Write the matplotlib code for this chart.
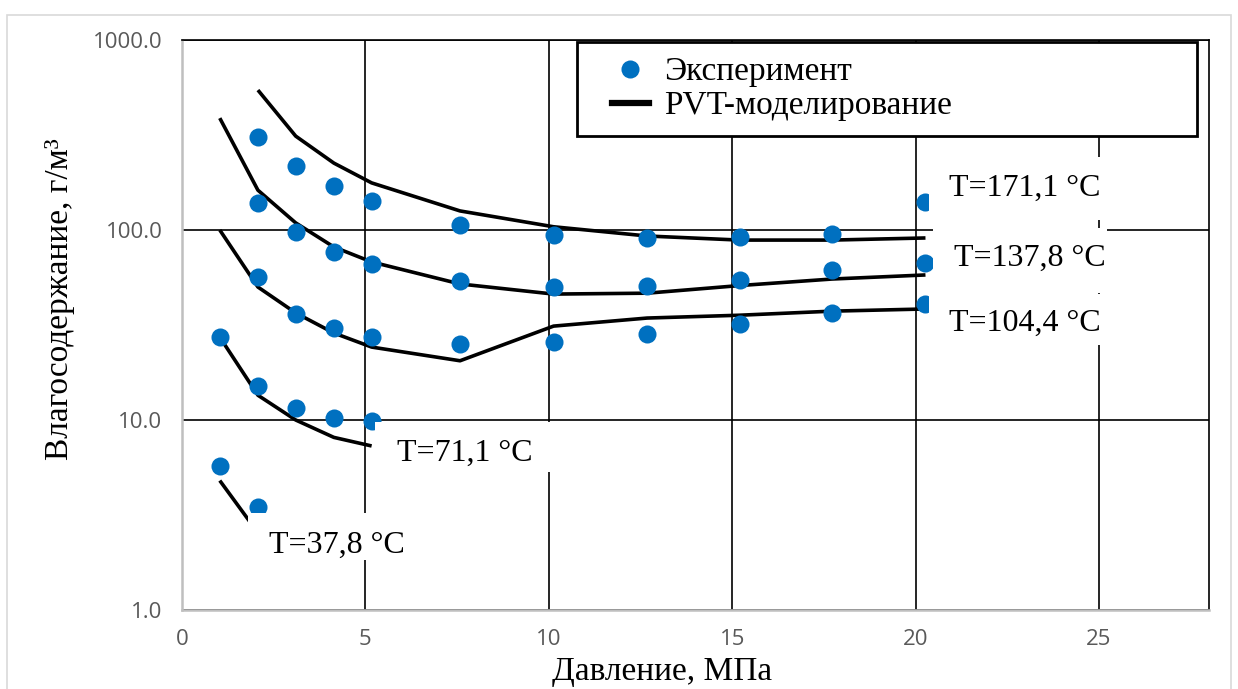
import numpy as np
import matplotlib.pyplot as plt
from matplotlib.lines import Line2D
from matplotlib.patches import Rectangle
from matplotlib.legend_handler import HandlerLine2D

# давление, МПа
pressure = [1.03, 2.07, 3.10, 4.14, 5.17, 7.58, 10.13, 12.68, 15.2, 17.72, 20.27]

# эксперимент, г/м3
exp_37 = [5.7, 3.5]
exp_71 = [27.3, 15.1, 11.6, 10.2, 9.9]
exp_104 = [None, 56.6, 36.1, 30.5, 27.3, 25.1, 25.7, 28.4, 32.0, 36.6, 40.8]
exp_137 = [None, 138.7, 97.6, 76.6, 66.2, 53.9, 50.1, 50.8, 54.6, 61.6, 67.0]
exp_171 = [None, 309, 217, 170.5, 142, 106, 94, 90.8, 91.9, 95.5, 140]

# PVT-моделирование, г/м3
pvt_37 = [4.8, 2.55]
pvt_71 = [27.3, 13.5, 10.0, 8.1, 7.3]
pvt_104 = [100, 50.1, 36.6, 28.7, 24.2, 20.5, 31.2, 34.4, 35.6, 37.4, 38.4]
pvt_137 = [388, 162, 109, 81.4, 67.9, 52.0, 46.0, 46.5, 51.0, 55.2, 58.0]
pvt_171 = [None, 545, 312, 225, 177, 126, 104, 93, 88.5, 88.5, 90.8]

temp_labels = ['T=37,8 °C', 'T=71,1 °C', 'T=104,4 °C', 'T=137,8 °C', 'T=171,1 °C']

BLUE = '#0070C0'
SERIF = 'Liberation Serif'
W, H = 1238, 689


def xy(values):
    p = np.array(pressure[:len(values)], dtype=float)
    v = np.array([np.nan if x is None else x for x in values], dtype=float)
    ok = ~np.isnan(v)
    return p[ok], v[ok]


def px_rect(x0, y0, x1, y1):
    # прямоугольник в пикселях (отсчёт y сверху) -> координаты фигуры
    return (x0 / W, 1 - y1 / H), (x1 - x0) / W, (y1 - y0) / H


fig = plt.figure(figsize=(W / 100, H / 100), dpi=100)
fig.patches.append(Rectangle((7 / W, -0.01), (1231 - 7) / W, 1 - 15 / H + 0.01,
                             transform=fig.transFigure, fill=False,
                             edgecolor='#d9d9d9', linewidth=1.2))

ax = fig.add_axes([182 / W, 1 - 610 / H, (1209 - 182) / W, 570 / H])
ax.set_yscale('log')
ax.set_xlim(0, 28)
ax.set_ylim(1, 1000)

for series in [pvt_37, pvt_71, pvt_104, pvt_137, pvt_171]:
    x, y = xy(series)
    ax.plot(x, y, color='black', linewidth=2.6, zorder=3, solid_capstyle='butt')

for series in [exp_37, exp_71, exp_104, exp_137, exp_171]:
    x, y = xy(series)
    ax.plot(x, y, 'o', color=BLUE, markersize=13, markeredgewidth=0, zorder=4)

ax.set_xticks([0, 5, 10, 15, 20, 25])
ax.set_yticks([1, 10, 100, 1000])
ax.set_yticklabels(['1.0', '10.0', '100.0', '1000.0'])
ax.minorticks_off()
ax.tick_params(length=0, labelsize=16, labelcolor='#595959', pad=14)
for lab in ax.get_xticklabels() + ax.get_yticklabels():
    lab.set_fontfamily('Open Sans')
ax.grid(True, color='black', linewidth=1.2, zorder=1)
ax.set_axisbelow(True)
for side in ['left', 'bottom']:
    ax.spines[side].set_color('#bfbfbf')
    ax.spines[side].set_linewidth(1.8)
for side in ['top', 'right']:
    ax.spines[side].set_color('black')
    ax.spines[side].set_linewidth(1.2)

# подписи температур на белых подложках
label_pos = [(337, 545), (465, 453), (1025, 323), (1030, 258), (1025, 188)]
label_box = [(248, 513, 425, 560), (375, 422, 556, 472), (929, 294, 1102, 345),
             (933, 228, 1107, 293), (929, 157, 1102, 220)]
for text, (px, py), box in zip(temp_labels, label_pos, label_box):
    xy0, bw, bh = px_rect(*box)
    ax.add_patch(Rectangle(xy0, bw, bh, transform=fig.transFigure,
                           facecolor='white', edgecolor='none', zorder=5,
                           clip_on=False))
    ax.text(px / W, 1 - py / H, text, transform=fig.transFigure,
            family=SERIF, fontsize=23, ha='center', va='center', zorder=6)

handles = [Line2D([], [], linestyle='none', marker='o', color=BLUE,
                  markersize=13, markeredgewidth=0),
           Line2D([], [], color='black', linewidth=4.5)]
leg = ax.legend(handles, ['Эксперимент', 'PVT-моделирование'],
                loc='upper left', bbox_to_anchor=(0.3846, 0.9965, 0.6034, 0.0),
                mode='expand', prop={'family': SERIF, 'size': 24},
                frameon=True, fancybox=False, framealpha=1, edgecolor='black',
                borderpad=0.45, labelspacing=0.1, handlelength=1.7,
                handletextpad=0.45, borderaxespad=0,
                handler_map={Line2D: HandlerLine2D(xpad=0.6)})
leg.get_frame().set_linewidth(2)
leg.set_zorder(7)

fig.text(662 / W, 1 - 672 / H, 'Давление, МПа', family=SERIF, fontsize=24,
         ha='center', va='center')
fig.text(60 / W, 1 - 299 / H, 'Влагосодержание, г/м³', family=SERIF,
         fontsize=24, rotation=90, ha='center', va='center')

fig.savefig('out.png', dpi=100)
